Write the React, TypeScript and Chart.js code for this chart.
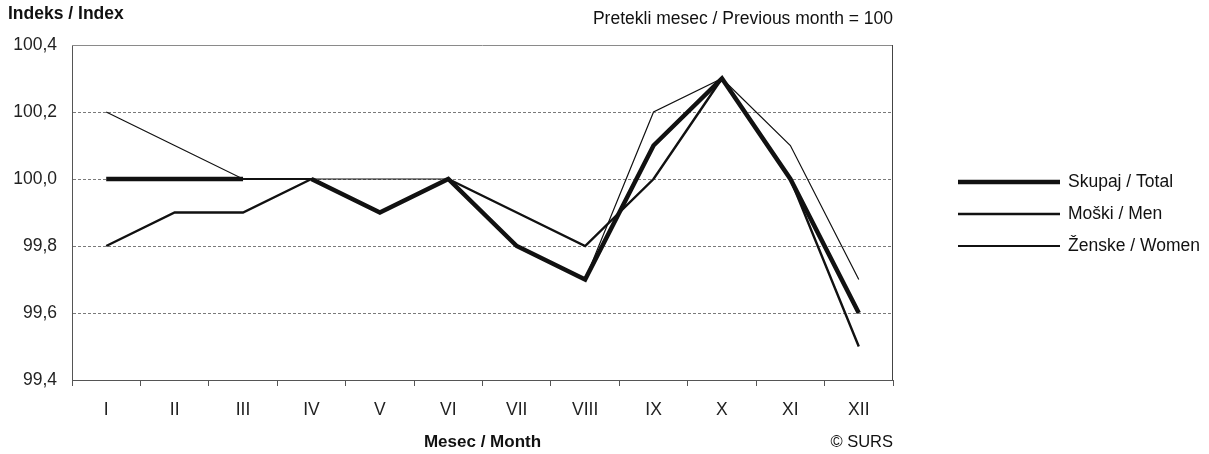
import React, { useEffect, useRef } from 'react';
import { Chart, registerables } from 'chart.js';

Chart.register(...registerables);

const months = ['I', 'II', 'III', 'IV', 'V', 'VI', 'VII', 'VIII', 'IX', 'X', 'XI', 'XII'];
const totalValues = [100.0, 100.0, 100.0, 100.0, 99.9, 100.0, 99.8, 99.7, 100.1, 100.3, 100.0, 99.6];
const menValues = [99.8, 99.9, 99.9, 100.0, 99.9, 100.0, 99.9, 99.8, 100.0, 100.3, 100.0, 99.5];
const womenValues = [100.2, 100.1, 100.0, 100.0, 100.0, 100.0, 99.8, 99.7, 100.2, 100.3, 100.1, 99.7];
const seriesLabels = ['Skupaj / Total', 'Moški / Men', 'Ženske / Women'];
const yMin = 99.4;
const yMax = 100.4;
const yStep = 0.2;

const titleText = 'Indeks / Index';
const subtitleText = 'Pretekli mesec / Previous month = 100';
const xTitleText = 'Mesec / Month';
const sourceText = '© SURS';

const FONT = "'Liberation Sans', Arial, Helvetica, sans-serif";
const FS = 17.5;
const INK = '#111111';

const decor = {
  id: 'decor',
  afterDatasetsDraw(chart: any) {
    const { ctx, chartArea: a } = chart;
    ctx.save();
    // frame (top + right)
    ctx.lineWidth = 1;
    ctx.setLineDash([]);
    ctx.strokeStyle = '#8a8a8a';
    ctx.beginPath();
    ctx.moveTo(a.left, Math.round(a.top) + 0.5);
    ctx.lineTo(a.right, Math.round(a.top) + 0.5);
    ctx.stroke();
    ctx.strokeStyle = '#444444';
    ctx.beginPath();
    ctx.moveTo(Math.round(a.right) - 0.5, a.top);
    ctx.lineTo(Math.round(a.right) - 0.5, a.bottom);
    ctx.stroke();

    // texts
    ctx.fillStyle = INK;
    ctx.textBaseline = 'middle';
    ctx.font = `bold ${FS}px ${FONT}`;
    ctx.textAlign = 'left';
    ctx.fillText(titleText, 8, 14);
    ctx.font = `${FS}px ${FONT}`;
    ctx.textAlign = 'right';
    ctx.fillText(subtitleText, a.right, 19);
    ctx.font = `${FS - 1}px ${FONT}`;
    ctx.fillText(sourceText, a.right, 442);

    // legend
    const cy = (a.top + a.bottom) / 2 + 1.5;
    chart.data.datasets.forEach((ds: any, i: number) => {
      const y = cy + (i - 1) * 32;
      ctx.strokeStyle = ds.borderColor;
      ctx.lineWidth = Math.max(ds.borderWidth, 2);
      ctx.lineCap = 'butt';
      ctx.beginPath();
      ctx.moveTo(a.right + 65, y);
      ctx.lineTo(a.right + 167, y);
      ctx.stroke();
      ctx.fillStyle = INK;
      ctx.font = `${FS}px ${FONT}`;
      ctx.textAlign = 'left';
      ctx.fillText(ds.label, a.right + 175, y);
    });
    ctx.restore();
  },
};

export default function App() {
  const ref = useRef<HTMLCanvasElement | null>(null);

  useEffect(() => {
    if (!ref.current) return;
    Chart.defaults.font.family = FONT;
    const chart = new Chart(ref.current, {
      type: 'line',
      data: {
        labels: months,
        datasets: [
          {
            label: seriesLabels[0],
            data: totalValues,
            borderColor: INK,
            borderWidth: 4.5,
            pointRadius: 0,
            tension: 0,
            segment: {
              borderWidth: (c: any) => (c.p0DataIndex === 2 ? 2 : undefined),
            },
          },
          {
            label: seriesLabels[1],
            data: menValues,
            borderColor: INK,
            borderWidth: 2.4,
            pointRadius: 0,
            tension: 0,
          },
          {
            label: seriesLabels[2],
            data: womenValues,
            borderColor: INK,
            borderWidth: 1.2,
            pointRadius: 0,
            tension: 0,
          },
        ],
      },
      options: {
        animation: false,
        responsive: true,
        maintainAspectRatio: false,
        layout: { padding: { top: 45, right: 316, left: 0, bottom: 0 } },
        plugins: {
          legend: { display: false },
          tooltip: { enabled: false },
          title: { display: false },
        },
        scales: {
          x: {
            type: 'category',
            offset: true,
            afterFit: (s: any) => {
              s.height = 74;
            },
            grid: {
              offset: true,
              drawOnChartArea: false,
              drawTicks: true,
              tickLength: 6,
              color: '#555555',
            },
            border: { display: true, color: '#555555', width: 1 },
            ticks: {
              color: '#222222',
              padding: 13.5,
              maxRotation: 0,
              autoSkip: false,
              font: { size: FS, family: FONT, lineHeight: 1.2 },
            },
            title: {
              display: true,
              text: xTitleText,
              color: INK,
              font: { size: FS - 0.5, weight: 'bold', family: FONT, lineHeight: 1.2 },
              padding: { top: 0, bottom: 1.5 },
            },
          },
          y: {
            min: yMin,
            max: yMax,
            afterFit: (s: any) => {
              s.width = 72;
            },
            grid: {
              drawTicks: false,
              lineWidth: 1,
              color: (c: any) => {
                const v = c.tick ? c.tick.value : null;
                if (v === null) return 'rgba(0,0,0,0)';
                if (Math.abs(v - yMin) < 1e-6 || Math.abs(v - yMax) < 1e-6) return 'rgba(0,0,0,0)';
                return '#7a7a7a';
              },
            },
            border: { display: true, color: '#555555', width: 1, dash: [3, 2] },
            ticks: {
              stepSize: yStep,
              color: '#222222',
              padding: 15,
              font: { size: FS, family: FONT },
              callback: (v: any) => Number(v).toFixed(1).replace('.', ','),
            },
          },
        },
      },
      plugins: [decor],
    } as any);
    return () => chart.destroy();
  }, []);

  return (
    <div style={{ position: 'fixed', left: 0, top: 0, width: 1209, height: 454, background: '#fff' }}>
      <canvas ref={ref} />
    </div>
  );
}
